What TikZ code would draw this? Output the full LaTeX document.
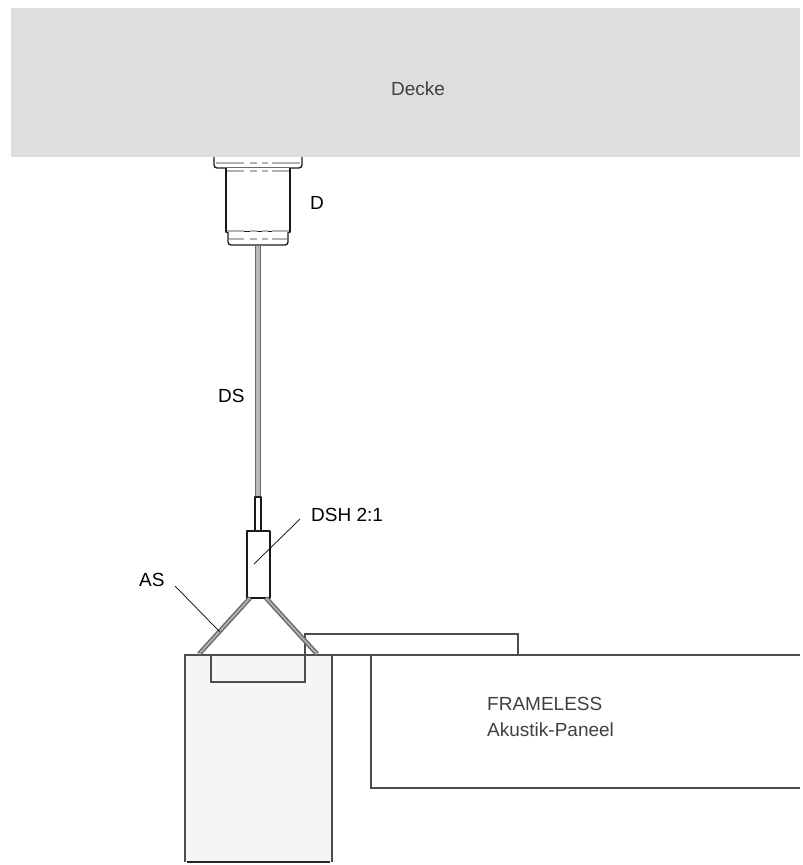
\documentclass[tikz,border=0pt]{standalone}
\usepackage{fontspec}
\setmainfont{Liberation Sans}
\tikzset{
  label_/.style = {font=\fontsize{19}{26}\selectfont, text=black, align=left, inner sep=0pt},
  thin_/.style  = {label_, text=black!75},
  line_/.style  = {draw=black!70, line width=1.6pt},
  part_/.style  = {draw=black!90, line width=1.3pt, line join=round},
  hid_/.style   = {draw=black!30, line width=1.2pt},
  lead_/.style  = {draw=black, line width=0.7pt},
  cable_/.style = {draw=black!60, line width=1.4pt, double=black!30, double distance=1.8pt}
}
\begin{document}
\begin{tikzpicture}[x=1pt, y=-1pt]
  \useasboundingbox (0,0) rectangle (803,865);
  % ceiling
  \fill [black!13] (11,8) rectangle (800,157);
  \node [thin_, anchor=base west] (decke) at (391,95) {Decke};
  % ceiling plug
  \draw [part_, rounded corners=3pt, fill=white] (214,157) -- (214,168) -- (302,168) -- (302,157);
  \draw [part_, fill=white] (226,168) -- (226,232) -- (290,232) -- (290,168);
  \draw [part_, rounded corners=3pt, fill=white] (228,232) -- (228,245) -- (288,245) -- (288,232);
  \foreach \y/\l in {163/216, 171/227, 231/227, 239/229} {
    \draw [hid_] (\l,\y) -- (244,\y);
    \draw [hid_] (516-\l,\y) -- (272,\y);
    \draw [hid_, dash pattern=on 7pt off 5pt] (250,\y) -- (268,\y);
  }
  \node [label_, anchor=base west] (d) at (310,209) {D};
  % wire
  \draw [draw=black!60, fill=black!28, line width=0.8pt] (255.5,245) rectangle (260.5,497);
  \node [label_, anchor=base west] (ds) at (218,402) {DS};
  % holder
  \draw [part_, fill=white] (255,497) rectangle (261,531);
  \draw [part_, fill=white] (247,531) rectangle (270,598);
  \coordinate (dshend) at (254,564);
  \coordinate (dshstart) at (300,519);
  \node [label_, anchor=base west] (dsh) at (311,521) {DSH 2:1};
  % panel and bracket
  \fill [black!4] (185,655) rectangle (332,862);
  \draw [line_] (185,862) -- (185,655) -- (800,655);
  \draw [line_] (332,655) -- (332,862);
  \draw [draw=black!85, line width=1.4pt] (187,862) -- (330,862);
  \draw [line_] (211,655) -- (211,682) -- (305,682) -- (305,634) -- (518,634) -- (518,655);
  \draw [line_] (371,655) -- (371,788) -- (800,788);
  \node [thin_, anchor=north west] (frameless) at (487,697) {FRAMELESS\\Akustik-Paneel};
  % suspension cables
  \draw [cable_] (250,598) -- (199,654);
  \draw [cable_] (266,598) -- (317,654);
  \coordinate (asend) at (220,632);
  \coordinate (asstart) at (175,586);
  \node [label_, anchor=base west] (as) at (139,586) {AS};
  % leaders
  \draw [lead_] (dshstart) -- (dshend);
  \draw [lead_] (asstart) -- (asend);
\end{tikzpicture}
\end{document}
